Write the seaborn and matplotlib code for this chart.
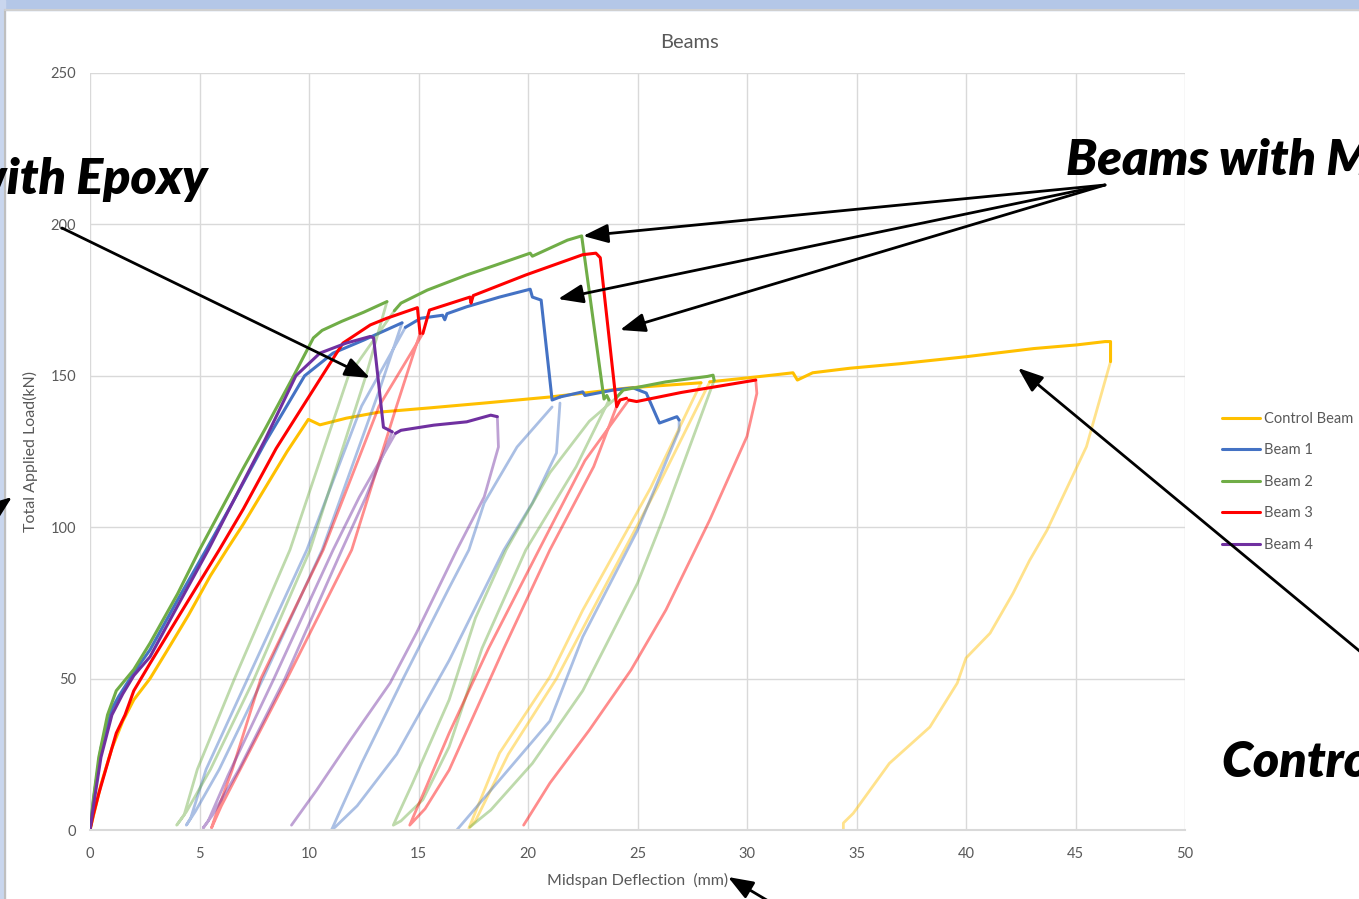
import matplotlib
matplotlib.use("Agg")
import matplotlib.pyplot as plt
import matplotlib.patches as mpatches
from matplotlib.lines import Line2D
import seaborn as sns
import pandas as pd

# ---------------- data (deflection mm, load kN) ----------------
series_names = ["Control Beam", "Beam 1", "Beam 2", "Beam 3", "Beam 4"]
series_colors = ["#FFC000", "#4472C4", "#70AD47", "#FF0000", "#7030A0"]
x_ticks = [0, 5, 10, 15, 20, 25, 30, 35, 40, 45, 50]
y_ticks = [0, 50, 100, 150, 200, 250]

# Control Beam
control_env_1 = [(0, 0), (0.2, 6), (0.5, 15), (1.0, 27), (1.5, 36), (2.0, 43), (2.74, 50),
                 (3.5, 59), (4.5, 71), (5.5, 84), (6.24, 92.5), (7.0, 101), (8.0, 113),
                 (9.0, 125), (9.97, 135.6), (10.5, 133.8), (11.7, 136), (13.2, 138),
                 (15.5, 139.4), (18.0, 141), (21.0, 143), (24.6, 146), (27.9, 147.7)]
control_env_2 = [(28.3, 148), (30.0, 149.3), (31.5, 150.5), (32.1, 151), (32.3, 148.6),
                 (33.0, 151), (34.7, 152.5), (37.0, 154), (40.0, 156.3), (43.1, 159),
                 (45.05, 160.2), (46.35, 161.3), (46.6, 161.3), (46.6, 154.7)]
control_cycle_1 = [(27.9, 147.7), (25.6, 113), (22.5, 72.6), (21.0, 50.6), (18.7, 25.4),
                   (17.3, 0.6), (17.6, 3), (19.1, 25), (21.3, 50), (22.9, 72), (25.9, 113),
                   (28.3, 148)]
control_cycle_2 = [(46.6, 154.7), (45.5, 126.6), (43.7, 99), (42.9, 89), (42.15, 78.2),
                   (41.1, 65), (40.0, 56.8), (39.6, 48.5), (38.35, 34), (36.5, 22),
                   (34.85, 5.5), (34.4, 2.3), (34.4, 0)]

# Beam 1
beam1_env_1 = [(0, 0), (0.2, 12), (0.5, 27), (1.0, 40), (1.3, 44), (2.0, 52), (2.74, 59.5),
               (4.0, 76), (5.3, 92.5), (6.5, 108), (8.0, 128), (9.8, 150), (11.1, 157.5),
               (12.5, 161.8), (14.25, 167.5)]
beam1_env_2 = [(14.4, 166), (15.1, 169), (16.1, 170), (16.2, 168.5), (16.3, 170.5),
               (17.2, 172.8), (18.7, 176), (20.1, 178.6), (20.2, 176), (20.6, 175),
               (21.1, 142), (21.46, 143)]
beam1_env_3 = [(21.46, 143), (22.5, 144.7), (22.6, 143.5), (23.9, 145.3), (24.8, 146),
               (25.4, 144.3), (26.0, 134.4), (26.8, 136.5), (26.9, 135.4)]
beam1_cycle_1 = [(14.25, 167.5), (13.2, 145), (10.6, 92.5), (7.9, 50), (5.9, 20), (4.8, 6),
                 (4.4, 1.6), (4.6, 4), (5.3, 20), (7.2, 50), (9.9, 92.5), (12.4, 140),
                 (14.4, 166)]
beam1_cycle_2 = [(21.46, 141), (21.3, 124.5), (20.2, 108), (18.9, 92.5), (16.4, 56),
                 (14.0, 25), (12.2, 8), (11.2, 1), (11.03, 0), (11.4, 6), (12.4, 22),
                 (14.3, 50), (16.4, 80), (17.3, 92.5), (18.0, 108), (19.5, 126.5),
                 (21.1, 139.7)]
beam1_cycle_3 = [(26.9, 135.4), (26.9, 132), (25.0, 99), (22.5, 63.8), (21.0, 36),
                 (18.7, 16.5), (16.75, 0)]

# Beam 2
beam2_env_1 = [(0, 0), (0.15, 10), (0.4, 24), (0.8, 38), (1.2, 46), (2.0, 53), (2.74, 61.7),
               (4.0, 78), (5.0, 92.5), (6.0, 106), (7.0, 119.5), (8.0, 132.5), (9.3, 150),
               (10.2, 162.5), (10.6, 165), (11.5, 168), (12.5, 171), (13.56, 174.5)]
beam2_env_2 = [(13.9, 171.5), (14.2, 174), (15.4, 178.3), (17.2, 183.3), (18.5, 186.5),
               (20.1, 190.5), (20.2, 189.5), (21.8, 194.8), (22.45, 196.2), (23.47, 142.3),
               (23.6, 143.5), (23.7, 142)]
beam2_env_3 = [(24.0, 142.5), (24.35, 145.3), (26.3, 148), (28.2, 149.8), (28.45, 150.2),
               (28.5, 148.5)]
beam2_cycle_1 = [(13.56, 174.5), (12.6, 150), (10.05, 92.5), (7.5, 50), (5.5, 20), (4.4, 6),
                 (3.96, 1.6), (4.3, 5), (4.9, 20), (6.6, 50), (9.13, 92.5), (11.8, 150),
                 (13.9, 171.5)]
beam2_cycle_2 = [(23.7, 142), (22.2, 120), (19.9, 92.5), (17.9, 60), (16.4, 27.5),
                 (15.2, 10), (14.2, 3), (13.85, 1.6), (14.0, 4), (14.7, 15), (16.4, 43),
                 (17.6, 70), (19.0, 92.5), (21.0, 118), (22.8, 135), (24.0, 142.5)]
beam2_cycle_3 = [(28.5, 148.5), (26.2, 103.4), (25.0, 81.5), (22.5, 46), (20.2, 22),
                 (18.3, 6.6), (17.35, 1)]

# Beam 3
beam3_env_1 = [(0, 0), (0.15, 5), (0.4, 12), (0.8, 22), (1.2, 32), (1.6, 38), (2.0, 46),
               (2.74, 55), (4.0, 70), (5.9, 92.5), (7.0, 106), (8.5, 126), (10.6, 150),
               (11.55, 160.8), (12.8, 166.8), (13.55, 169), (14.95, 172.5), (15.07, 164)]
beam3_env_2 = [(15.2, 164), (15.5, 171.7), (17.35, 176), (17.4, 174), (17.5, 176.5),
               (19.9, 183.3), (22.5, 190), (23.1, 190.5), (23.3, 189), (24.05, 139.8),
               (24.2, 142), (24.5, 142.6)]
beam3_env_3 = [(24.6, 142), (24.96, 141.5), (27.0, 144.5), (30.4, 148.6)]
beam3_cycle_1 = [(15.07, 164), (14.0, 140), (11.95, 92.5), (9.0, 50), (7.0, 22), (6.0, 8),
                 (5.55, 0.7), (5.7, 4), (6.5, 20), (7.8, 50), (10.65, 92.5), (13.2, 140),
                 (15.2, 164)]
beam3_cycle_2 = [(24.05, 140), (23.0, 120), (21.0, 92.5), (18.9, 60), (16.4, 19.8),
                 (15.3, 7), (14.6, 1.6), (14.8, 5), (15.4, 15), (16.4, 32), (18.2, 60),
                 (20.5, 92.5), (22.6, 122), (24.6, 142)]
beam3_cycle_3 = [(30.4, 148.6), (30.45, 144.2), (30.0, 130), (28.3, 102.4), (26.3, 72.7),
                 (24.7, 52.8), (22.8, 33), (21.0, 15.5), (19.8, 1.6)]

# Beam 4
beam4_env_1 = [(0, 0), (0.2, 10), (0.5, 24), (1.0, 38), (1.5, 45), (2.0, 51), (2.74, 57.2),
               (4.0, 74), (5.4, 92.5), (6.5, 108), (8.0, 129), (9.4, 150), (10.5, 157.5),
               (11.7, 160.8), (12.8, 163), (12.95, 162.5), (13.4, 133), (13.8, 131.5)]
beam4_env_2 = [(13.95, 131), (14.2, 132), (15.7, 133.7), (17.2, 134.8), (18.3, 137),
               (18.6, 136.5)]
beam4_cycle_1 = [(13.8, 131.5), (12.6, 110), (11.5, 92.5), (8.9, 50), (6.8, 20), (5.6, 5),
                 (5.17, 0.7), (5.4, 3), (6.3, 18), (8.4, 50), (11.1, 92.5), (12.3, 110),
                 (13.95, 131)]
beam4_cycle_2 = [(18.6, 136.5), (18.65, 126.5), (18.0, 110), (16.75, 92.5), (14.9, 65),
                 (13.7, 48.5), (11.9, 29.8), (10.35, 13.2), (9.2, 1.6)]

solid_segments = {
    "Control Beam": [control_env_1, control_env_2],
    "Beam 1": [beam1_env_1, beam1_env_2, beam1_env_3],
    "Beam 2": [beam2_env_1, beam2_env_2, beam2_env_3],
    "Beam 3": [beam3_env_1, beam3_env_2, beam3_env_3],
    "Beam 4": [beam4_env_1, beam4_env_2],
}
faded_segments = {
    "Control Beam": [control_cycle_1, control_cycle_2],
    "Beam 1": [beam1_cycle_1, beam1_cycle_2, beam1_cycle_3],
    "Beam 2": [beam2_cycle_1, beam2_cycle_2, beam2_cycle_3],
    "Beam 3": [beam3_cycle_1, beam3_cycle_2, beam3_cycle_3],
    "Beam 4": [beam4_cycle_1, beam4_cycle_2],
}

# ---------------- figure ----------------
sns.set_theme(style="white")
plt.rcParams["font.family"] = ["Lato", "DejaVu Sans"]

W, H = 1359, 899
fig = plt.figure(figsize=(W / 100, H / 100), dpi=100)
fig.patch.set_facecolor("white")

def fx(px):
    return px / W

def fy(py):
    return 1 - py / H

# slide border
fig.patches.append(mpatches.Rectangle((0, fy(10)), 1, 10 / H, transform=fig.transFigure,
                                      color="#B4C7E7", zorder=0))
fig.patches.append(mpatches.Rectangle((0, 0), 5 / W, 1, transform=fig.transFigure,
                                      color="#C9D6EE", zorder=0))
fig.add_artist(Line2D([5 / W, 5 / W], [0, fy(10)], transform=fig.transFigure,
                      color="#BFBFBF", lw=1.5))
fig.add_artist(Line2D([5 / W, 1], [fy(10), fy(10)], transform=fig.transFigure,
                      color="#D0D0D0", lw=1.5))

ax = fig.add_axes([fx(90), fy(830), fx(1185) - fx(90), fy(73) - fy(830)])
ax.set_facecolor("none")

for name, color in zip(series_names, series_colors):
    for seg in faded_segments[name]:
        df = pd.DataFrame(seg, columns=["Deflection", "Load"])
        sns.lineplot(data=df, x="Deflection", y="Load", sort=False, estimator=None,
                     color=color, lw=2.0, alpha=0.45, ax=ax, legend=False)
    for seg in solid_segments[name]:
        df = pd.DataFrame(seg, columns=["Deflection", "Load"])
        sns.lineplot(data=df, x="Deflection", y="Load", sort=False, estimator=None,
                     color=color, lw=2.2, ax=ax, legend=False)

ax.set_xlim(0, 50)
ax.set_ylim(0, 250)
ax.set_xticks(x_ticks)
ax.set_yticks(y_ticks)
ax.grid(True, color="#D9D9D9", lw=1)
for s in ["top", "right", "left"]:
    ax.spines[s].set_visible(False)
ax.spines["bottom"].set_color("#D9D9D9")
ax.spines["bottom"].set_linewidth(1.5)
ax.tick_params(axis="x", length=0, labelsize=10.5, colors="#595959", pad=12)
ax.tick_params(axis="y", length=0, labelsize=10.5, colors="#595959", pad=10)
ax.set_xlabel("Midspan Deflection  (mm)", fontsize=11.5, color="#595959", labelpad=9)
ax.set_ylabel("Total Applied Load(kN)", fontsize=11.5, color="#595959", labelpad=9)
fig.text(fx(690), fy(42), "Beams", ha="center", va="center", fontsize=14.5, color="#595959")

handles = [Line2D([0], [0], color=c, lw=2.2) for c in series_colors]
fig.legend(handles, series_names, loc="upper left", bbox_to_anchor=(fx(1216), fy(406)),
           frameon=False, fontsize=10.5, labelcolor="#595959", handlelength=2.6,
           handletextpad=0.3, labelspacing=1.2, borderaxespad=0)

# annotations
tstyle = dict(fontsize=36, fontweight="heavy", fontstyle="italic", color="black",
              family=["Lato", "DejaVu Sans"])
fig.text(fx(207), fy(194), "Beams with Epoxy", ha="right", va="baseline", **tstyle)
fig.text(fx(1066), fy(175), "Beams with Mortar", ha="left", va="baseline", **tstyle)
fig.text(fx(1222), fy(777), "Control Beam", ha="left", va="baseline", **tstyle)

arrows = [((62, 228), (370, 378)), ((1105, 185), (583, 236)), ((1105, 185), (558, 299)),
          ((1105, 185), (620, 330)), ((1380, 668), (1018, 368)), ((775, 905), (728, 877)),
          ((-25, 525), (12, 497))]
for (x0, y0), (x1, y1) in arrows:
    fig.add_artist(matplotlib.patches.FancyArrowPatch(
        (fx(x0), fy(y0)), (fx(x1), fy(y1)), transform=fig.transFigure,
        arrowstyle="-|>,head_length=0.95,head_width=0.36", mutation_scale=16,
        color="black", lw=2.0, shrinkA=0, shrinkB=0, zorder=10))

fig.savefig("out.png", dpi=100)
